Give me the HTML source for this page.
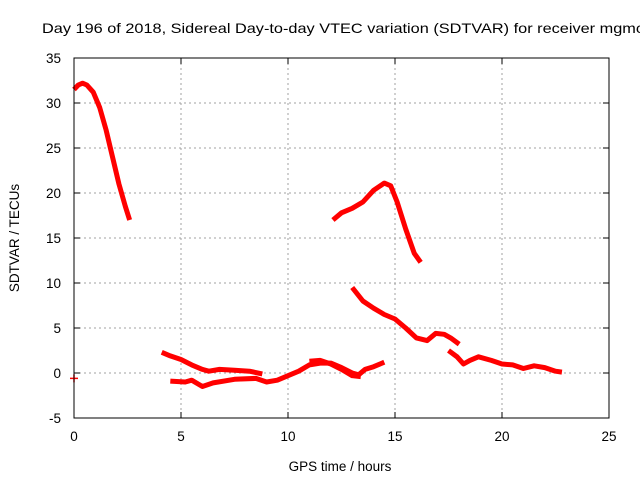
<!DOCTYPE html>
<html><head><meta charset="utf-8"><style>
body{margin:0;background:#fff;overflow:hidden}
svg{display:block;font-family:"Liberation Sans",sans-serif}
</style></head><body>
<svg id="chart" width="640" height="480">
<text x="42" y="33" font-size="14" textLength="602" lengthAdjust="spacingAndGlyphs" fill="#000">Day 196 of 2018, Sidereal Day-to-day VTEC variation (SDTVAR) for receiver mgmc</text>
<g id="grid"></g><g id="series"></g><g id="axes"></g>
<text x="340" y="471" font-size="13.5" text-anchor="middle">GPS time / hours</text>
<text transform="translate(19,238) rotate(-90)" font-size="13.5" text-anchor="middle">SDTVAR / TECUs</text>
</svg>
<script>
const xTicks=[0,5,10,15,20,25];
const yTicks=[-5,0,5,10,15,20,25,30,35];
const seg1T=[0,0.2,0.4,0.6,0.9,1.2,1.5,1.8,2.1,2.4,2.6];
const seg1V=[31.5,32,32.2,32,31.2,29.5,27,24,21,18.5,17];
const seg2T=[4.1,4.5,5,5.5,6,6.3,6.8,7.5,8.2,8.8];
const seg2V=[2.3,1.9,1.5,0.9,0.4,0.2,0.4,0.3,0.2,-0.1];
const seg3T=[4.5,5.2,5.5,6,6.5,7.5,8.5,9,9.5,10,10.5,11,11.5,12,12.5,13,13.3,13.6,14,14.5];
const seg3V=[-0.9,-1.0,-0.8,-1.5,-1.1,-0.7,-0.6,-1.0,-0.8,-0.3,0.2,0.9,1.1,1.1,0.6,0.0,-0.2,0.4,0.7,1.2];
const seg4T=[11,11.5,12,12.5,13,13.4];
const seg4V=[1.3,1.4,1.0,0.4,-0.3,-0.4];
const seg5T=[12.1,12.5,13,13.5,14,14.5,14.8,15.1,15.5,15.9,16.2];
const seg5V=[17,17.8,18.3,19,20.3,21.1,20.8,19,16,13.3,12.3];
const seg6T=[13,13.5,14,14.5,15,15.5,16,16.5,16.9,17.3,17.6,18];
const seg6V=[9.5,8,7.2,6.5,6.0,5.0,3.9,3.6,4.4,4.3,3.9,3.2];
const seg7T=[17.5,17.9,18.2,18.5,18.9,19.5,20,20.5,21,21.5,22,22.5,22.8];
const seg7V=[2.5,1.8,1.0,1.4,1.8,1.4,1.0,0.9,0.5,0.8,0.6,0.2,0.1];
const loneT=[0];const loneV=[-0.6];
const L=74,R=609,T=58,B=418;
const xs=t=>L+(t-0)/25*(R-L);
const ys=v=>B-(v+5)/40*(B-T);
const NS="http://www.w3.org/2000/svg";
function mk(tag,attrs,parent){const e=document.createElementNS(NS,tag);for(const k in attrs)e.setAttribute(k,attrs[k]);parent.appendChild(e);return e;}
const grid=document.getElementById('grid'),axes=document.getElementById('axes'),ser=document.getElementById('series');
xTicks.forEach(t=>{
 if(t>0&&t<25){const g=mk('line',{x1:xs(t),x2:xs(t),y1:T,y2:B,stroke:'#a0a0a0','stroke-dasharray':'2,3'},grid);
 
 }
 const tk=mk('line',{x1:xs(t),x2:xs(t),y1:B,y2:B-6,stroke:'#000'},axes);
 
 
 const tk2=mk('line',{x1:xs(t),x2:xs(t),y1:T,y2:T+6,stroke:'#000'},axes);
 
 
 const lb=mk('text',{x:xs(t),y:B+23,'font-size':13.5,'text-anchor':'middle'},axes);lb.textContent=t;
 
 
});
yTicks.forEach(v=>{
 if(v>-5&&v<35){const g=mk('line',{x1:L,x2:R,y1:ys(v),y2:ys(v),stroke:'#a0a0a0','stroke-dasharray':'2,3'},grid);
 
 }
 const tk=mk('line',{x1:L,x2:L+6,y1:ys(v),y2:ys(v),stroke:'#000'},axes);
 
 
 const tk2=mk('line',{x1:R,x2:R-6,y1:ys(v),y2:ys(v),stroke:'#000'},axes);
 
 
 const lb=mk('text',{x:L-13,y:ys(v)+5,'font-size':13.5,'text-anchor':'end'},axes);lb.textContent=v;
 
 
});
const fr=mk('rect',{x:L,y:T,width:R-L,height:B-T,fill:'none',stroke:'#000'},axes);


[[seg1T,seg1V],[seg2T,seg2V],[seg3T,seg3V],[seg4T,seg4V],[seg5T,seg5V],[seg6T,seg6V],[seg7T,seg7V]].forEach(([ts,vs])=>{
 const pts=ts.map((t,i)=>xs(t)+','+ys(vs[i])).join(' ');
 const p=mk('polyline',{points:pts,fill:'none',stroke:'#f00','stroke-width':5,'stroke-linejoin':'round','stroke-linecap':'butt'},ser);
 
 
});
loneT.forEach((t,i)=>{
 const x=xs(t),y=ys(loneV[i]);
 const p=mk('path',{d:`M${x-4},${y}H${x+4}M${x},${y-4}V${y+4}`,stroke:'#f00','stroke-width':1.5},ser);
 
 
});
</script>
</body></html>
